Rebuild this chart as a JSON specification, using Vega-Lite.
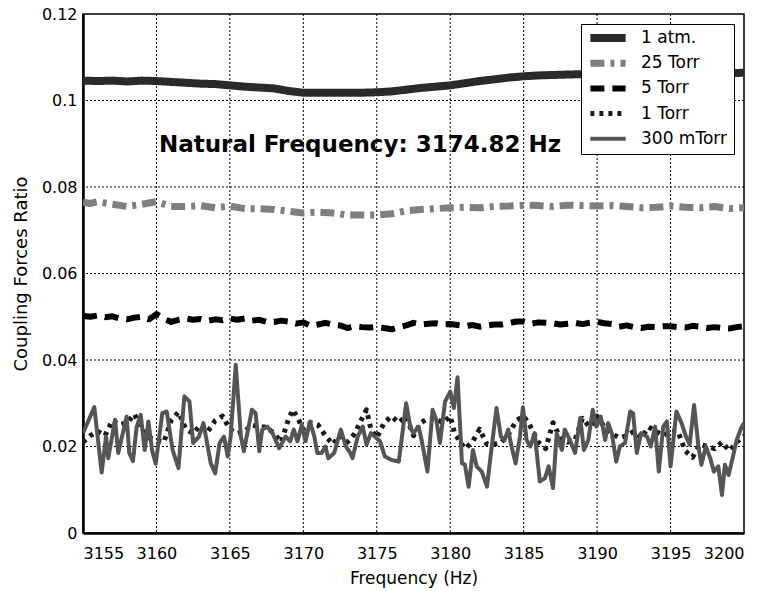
{
"$schema":"https://vega.github.io/schema/vega-lite/v6.json",
"width":661,"height":519,
"autosize":{"type":"none"},
"padding":{"left":83,"top":14,"right":23,"bottom":58},
"background":"white",
"config":{"view":{"stroke":"black","strokeWidth":1.5},"font":"DejaVu Sans"},
"datasets":{
"gridx":[{"f":3160},{"f":3165},{"f":3170},{"f":3175},{"f":3180},{"f":3185},{"f":3190},{"f":3195}],
"gridy":[{"v":0.02},{"v":0.04},{"v":0.06},{"v":0.08},{"v":0.1}],
"main":[
{"s":"1 atm.","f":3155,"v":0.1046},{"s":"1 atm.","f":3156,"v":0.1045},{"s":"1 atm.","f":3157,"v":0.1046},{"s":"1 atm.","f":3158,"v":0.1044},{"s":"1 atm.","f":3159,"v":0.1046},{"s":"1 atm.","f":3160,"v":0.1045},{"s":"1 atm.","f":3161,"v":0.1043},{"s":"1 atm.","f":3162,"v":0.1041},{"s":"1 atm.","f":3163,"v":0.1039},{"s":"1 atm.","f":3164,"v":0.1038},{"s":"1 atm.","f":3165,"v":0.1035},{"s":"1 atm.","f":3166,"v":0.1032},{"s":"1 atm.","f":3167,"v":0.1030},{"s":"1 atm.","f":3168,"v":0.1028},{"s":"1 atm.","f":3169,"v":0.1022},{"s":"1 atm.","f":3170,"v":0.1018},{"s":"1 atm.","f":3171,"v":0.1018},{"s":"1 atm.","f":3172,"v":0.1018},{"s":"1 atm.","f":3173,"v":0.1018},{"s":"1 atm.","f":3174,"v":0.1018},{"s":"1 atm.","f":3175,"v":0.1019},{"s":"1 atm.","f":3176,"v":0.1021},{"s":"1 atm.","f":3177,"v":0.1025},{"s":"1 atm.","f":3178,"v":0.1029},{"s":"1 atm.","f":3179,"v":0.1032},{"s":"1 atm.","f":3180,"v":0.1035},{"s":"1 atm.","f":3181,"v":0.1040},{"s":"1 atm.","f":3182,"v":0.1045},{"s":"1 atm.","f":3183,"v":0.1049},{"s":"1 atm.","f":3184,"v":0.1053},{"s":"1 atm.","f":3185,"v":0.1056},{"s":"1 atm.","f":3186,"v":0.1058},{"s":"1 atm.","f":3188,"v":0.1060},{"s":"1 atm.","f":3190,"v":0.1062},{"s":"1 atm.","f":3192,"v":0.1062},{"s":"1 atm.","f":3195,"v":0.1062},{"s":"1 atm.","f":3198,"v":0.1063},{"s":"1 atm.","f":3200,"v":0.1064},
{"s":"25 Torr","f":3155,"v":0.0765},{"s":"25 Torr","f":3155.5,"v":0.0762},{"s":"25 Torr","f":3156,"v":0.0766},{"s":"25 Torr","f":3157,"v":0.0760},{"s":"25 Torr","f":3158,"v":0.0755},{"s":"25 Torr","f":3159,"v":0.0760},{"s":"25 Torr","f":3160,"v":0.0766},{"s":"25 Torr","f":3161,"v":0.0755},{"s":"25 Torr","f":3162,"v":0.0755},{"s":"25 Torr","f":3163,"v":0.0757},{"s":"25 Torr","f":3164,"v":0.0752},{"s":"25 Torr","f":3165,"v":0.0756},{"s":"25 Torr","f":3166,"v":0.0750},{"s":"25 Torr","f":3167,"v":0.0750},{"s":"25 Torr","f":3168,"v":0.0748},{"s":"25 Torr","f":3169,"v":0.0744},{"s":"25 Torr","f":3170,"v":0.0740},{"s":"25 Torr","f":3171,"v":0.0742},{"s":"25 Torr","f":3172,"v":0.0740},{"s":"25 Torr","f":3173,"v":0.0735},{"s":"25 Torr","f":3174,"v":0.0735},{"s":"25 Torr","f":3175,"v":0.0735},{"s":"25 Torr","f":3176,"v":0.0738},{"s":"25 Torr","f":3177,"v":0.0745},{"s":"25 Torr","f":3178,"v":0.0748},{"s":"25 Torr","f":3179,"v":0.0750},{"s":"25 Torr","f":3180,"v":0.0752},{"s":"25 Torr","f":3181,"v":0.0753},{"s":"25 Torr","f":3182,"v":0.0752},{"s":"25 Torr","f":3183,"v":0.0755},{"s":"25 Torr","f":3184,"v":0.0756},{"s":"25 Torr","f":3185,"v":0.0758},{"s":"25 Torr","f":3186,"v":0.0757},{"s":"25 Torr","f":3187,"v":0.0755},{"s":"25 Torr","f":3188,"v":0.0758},{"s":"25 Torr","f":3189,"v":0.0757},{"s":"25 Torr","f":3190,"v":0.0756},{"s":"25 Torr","f":3191,"v":0.0757},{"s":"25 Torr","f":3192,"v":0.0755},{"s":"25 Torr","f":3193,"v":0.0752},{"s":"25 Torr","f":3194,"v":0.0753},{"s":"25 Torr","f":3195,"v":0.0756},{"s":"25 Torr","f":3196,"v":0.0753},{"s":"25 Torr","f":3197,"v":0.0752},{"s":"25 Torr","f":3198,"v":0.0755},{"s":"25 Torr","f":3199,"v":0.0750},{"s":"25 Torr","f":3200,"v":0.0752},
{"s":"5 Torr","f":3155,"v":0.0502},{"s":"5 Torr","f":3155.5,"v":0.0500},{"s":"5 Torr","f":3156,"v":0.0503},{"s":"5 Torr","f":3156.5,"v":0.0499},{"s":"5 Torr","f":3157,"v":0.0501},{"s":"5 Torr","f":3157.5,"v":0.0496},{"s":"5 Torr","f":3158,"v":0.0494},{"s":"5 Torr","f":3158.5,"v":0.0498},{"s":"5 Torr","f":3159,"v":0.0500},{"s":"5 Torr","f":3159.5,"v":0.0494},{"s":"5 Torr","f":3160,"v":0.0506},{"s":"5 Torr","f":3160.5,"v":0.0496},{"s":"5 Torr","f":3161,"v":0.0488},{"s":"5 Torr","f":3161.5,"v":0.0493},{"s":"5 Torr","f":3162,"v":0.0496},{"s":"5 Torr","f":3162.5,"v":0.0493},{"s":"5 Torr","f":3163,"v":0.0495},{"s":"5 Torr","f":3163.5,"v":0.0491},{"s":"5 Torr","f":3164,"v":0.0494},{"s":"5 Torr","f":3164.5,"v":0.0492},{"s":"5 Torr","f":3165,"v":0.0496},{"s":"5 Torr","f":3165.5,"v":0.0493},{"s":"5 Torr","f":3166,"v":0.0496},{"s":"5 Torr","f":3166.5,"v":0.0491},{"s":"5 Torr","f":3167,"v":0.0493},{"s":"5 Torr","f":3167.5,"v":0.0488},{"s":"5 Torr","f":3168,"v":0.0488},{"s":"5 Torr","f":3168.5,"v":0.0491},{"s":"5 Torr","f":3169,"v":0.0489},{"s":"5 Torr","f":3169.5,"v":0.0484},{"s":"5 Torr","f":3170,"v":0.0487},{"s":"5 Torr","f":3170.5,"v":0.0479},{"s":"5 Torr","f":3171,"v":0.0482},{"s":"5 Torr","f":3171.5,"v":0.0486},{"s":"5 Torr","f":3172,"v":0.0482},{"s":"5 Torr","f":3172.5,"v":0.0480},{"s":"5 Torr","f":3173,"v":0.0474},{"s":"5 Torr","f":3173.5,"v":0.0478},{"s":"5 Torr","f":3174,"v":0.0476},{"s":"5 Torr","f":3174.5,"v":0.0475},{"s":"5 Torr","f":3175,"v":0.0476},{"s":"5 Torr","f":3175.5,"v":0.0474},{"s":"5 Torr","f":3176,"v":0.0471},{"s":"5 Torr","f":3176.5,"v":0.0476},{"s":"5 Torr","f":3177,"v":0.0480},{"s":"5 Torr","f":3177.5,"v":0.0486},{"s":"5 Torr","f":3178,"v":0.0482},{"s":"5 Torr","f":3178.5,"v":0.0484},{"s":"5 Torr","f":3179,"v":0.0485},{"s":"5 Torr","f":3179.5,"v":0.0482},{"s":"5 Torr","f":3180,"v":0.0483},{"s":"5 Torr","f":3180.5,"v":0.0481},{"s":"5 Torr","f":3181,"v":0.0478},{"s":"5 Torr","f":3181.5,"v":0.0481},{"s":"5 Torr","f":3182,"v":0.0477},{"s":"5 Torr","f":3182.5,"v":0.0480},{"s":"5 Torr","f":3183,"v":0.0482},{"s":"5 Torr","f":3183.5,"v":0.0482},{"s":"5 Torr","f":3184,"v":0.0485},{"s":"5 Torr","f":3184.5,"v":0.0489},{"s":"5 Torr","f":3185,"v":0.0489},{"s":"5 Torr","f":3185.5,"v":0.0484},{"s":"5 Torr","f":3186,"v":0.0487},{"s":"5 Torr","f":3186.5,"v":0.0486},{"s":"5 Torr","f":3187,"v":0.0485},{"s":"5 Torr","f":3187.5,"v":0.0482},{"s":"5 Torr","f":3188,"v":0.0484},{"s":"5 Torr","f":3188.5,"v":0.0486},{"s":"5 Torr","f":3189,"v":0.0483},{"s":"5 Torr","f":3189.5,"v":0.0486},{"s":"5 Torr","f":3190,"v":0.0488},{"s":"5 Torr","f":3190.5,"v":0.0485},{"s":"5 Torr","f":3191,"v":0.0483},{"s":"5 Torr","f":3191.5,"v":0.0477},{"s":"5 Torr","f":3192,"v":0.0480},{"s":"5 Torr","f":3192.5,"v":0.0476},{"s":"5 Torr","f":3193,"v":0.0474},{"s":"5 Torr","f":3193.5,"v":0.0477},{"s":"5 Torr","f":3194,"v":0.0476},{"s":"5 Torr","f":3194.5,"v":0.0478},{"s":"5 Torr","f":3195,"v":0.0478},{"s":"5 Torr","f":3195.5,"v":0.0476},{"s":"5 Torr","f":3196,"v":0.0475},{"s":"5 Torr","f":3196.5,"v":0.0479},{"s":"5 Torr","f":3197,"v":0.0477},{"s":"5 Torr","f":3197.5,"v":0.0474},{"s":"5 Torr","f":3198,"v":0.0476},{"s":"5 Torr","f":3198.5,"v":0.0474},{"s":"5 Torr","f":3199,"v":0.0473},{"s":"5 Torr","f":3199.5,"v":0.0476},{"s":"5 Torr","f":3200,"v":0.0478},
{"s":"1 Torr","f":3155,"v":0.021},{"s":"1 Torr","f":3155.5,"v":0.0225},{"s":"1 Torr","f":3156,"v":0.0235},{"s":"1 Torr","f":3156.5,"v":0.0225},{"s":"1 Torr","f":3157,"v":0.026},{"s":"1 Torr","f":3157.5,"v":0.025},{"s":"1 Torr","f":3158,"v":0.0255},{"s":"1 Torr","f":3158.5,"v":0.0275},{"s":"1 Torr","f":3159,"v":0.024},{"s":"1 Torr","f":3159.5,"v":0.022},{"s":"1 Torr","f":3160,"v":0.0215},{"s":"1 Torr","f":3160.5,"v":0.021},{"s":"1 Torr","f":3161,"v":0.026},{"s":"1 Torr","f":3161.5,"v":0.028},{"s":"1 Torr","f":3162,"v":0.024},{"s":"1 Torr","f":3162.5,"v":0.023},{"s":"1 Torr","f":3163,"v":0.025},{"s":"1 Torr","f":3163.5,"v":0.0235},{"s":"1 Torr","f":3164,"v":0.026},{"s":"1 Torr","f":3164.5,"v":0.027},{"s":"1 Torr","f":3165,"v":0.024},{"s":"1 Torr","f":3165.5,"v":0.023},{"s":"1 Torr","f":3166,"v":0.0235},{"s":"1 Torr","f":3166.5,"v":0.025},{"s":"1 Torr","f":3167,"v":0.0245},{"s":"1 Torr","f":3167.5,"v":0.0245},{"s":"1 Torr","f":3168,"v":0.023},{"s":"1 Torr","f":3168.5,"v":0.021},{"s":"1 Torr","f":3169,"v":0.0265},{"s":"1 Torr","f":3169.3,"v":0.0285},{"s":"1 Torr","f":3169.7,"v":0.026},{"s":"1 Torr","f":3170,"v":0.024},{"s":"1 Torr","f":3170.5,"v":0.0255},{"s":"1 Torr","f":3171,"v":0.025},{"s":"1 Torr","f":3171.5,"v":0.0225},{"s":"1 Torr","f":3172,"v":0.0205},{"s":"1 Torr","f":3172.5,"v":0.0225},{"s":"1 Torr","f":3173,"v":0.021},{"s":"1 Torr","f":3173.5,"v":0.023},{"s":"1 Torr","f":3174,"v":0.0265},{"s":"1 Torr","f":3174.3,"v":0.0285},{"s":"1 Torr","f":3174.6,"v":0.024},{"s":"1 Torr","f":3175,"v":0.022},{"s":"1 Torr","f":3175.5,"v":0.0255},{"s":"1 Torr","f":3176,"v":0.027},{"s":"1 Torr","f":3176.5,"v":0.0255},{"s":"1 Torr","f":3177,"v":0.027},{"s":"1 Torr","f":3177.5,"v":0.0225},{"s":"1 Torr","f":3178,"v":0.0255},{"s":"1 Torr","f":3178.5,"v":0.0265},{"s":"1 Torr","f":3179,"v":0.0265},{"s":"1 Torr","f":3179.5,"v":0.0255},{"s":"1 Torr","f":3180,"v":0.027},{"s":"1 Torr","f":3180.3,"v":0.023},{"s":"1 Torr","f":3180.7,"v":0.021},{"s":"1 Torr","f":3181,"v":0.0195},{"s":"1 Torr","f":3181.5,"v":0.021},{"s":"1 Torr","f":3182,"v":0.024},{"s":"1 Torr","f":3182.5,"v":0.0205},{"s":"1 Torr","f":3183,"v":0.0205},{"s":"1 Torr","f":3183.5,"v":0.021},{"s":"1 Torr","f":3184,"v":0.023},{"s":"1 Torr","f":3184.5,"v":0.026},{"s":"1 Torr","f":3185,"v":0.027},{"s":"1 Torr","f":3185.4,"v":0.025},{"s":"1 Torr","f":3186,"v":0.021},{"s":"1 Torr","f":3186.5,"v":0.0195},{"s":"1 Torr","f":3187,"v":0.0255},{"s":"1 Torr","f":3187.5,"v":0.022},{"s":"1 Torr","f":3188,"v":0.021},{"s":"1 Torr","f":3188.5,"v":0.0215},{"s":"1 Torr","f":3189,"v":0.0265},{"s":"1 Torr","f":3189.5,"v":0.0245},{"s":"1 Torr","f":3190,"v":0.027},{"s":"1 Torr","f":3190.5,"v":0.0245},{"s":"1 Torr","f":3191,"v":0.023},{"s":"1 Torr","f":3191.5,"v":0.022},{"s":"1 Torr","f":3192,"v":0.0225},{"s":"1 Torr","f":3192.5,"v":0.0235},{"s":"1 Torr","f":3193,"v":0.022},{"s":"1 Torr","f":3193.5,"v":0.0245},{"s":"1 Torr","f":3194,"v":0.0235},{"s":"1 Torr","f":3194.5,"v":0.0225},{"s":"1 Torr","f":3195,"v":0.0235},{"s":"1 Torr","f":3195.5,"v":0.0235},{"s":"1 Torr","f":3196,"v":0.019},{"s":"1 Torr","f":3196.5,"v":0.0175},{"s":"1 Torr","f":3197,"v":0.0205},{"s":"1 Torr","f":3197.5,"v":0.020},{"s":"1 Torr","f":3198,"v":0.0195},{"s":"1 Torr","f":3198.5,"v":0.021},{"s":"1 Torr","f":3199,"v":0.019},{"s":"1 Torr","f":3199.5,"v":0.021},{"s":"1 Torr","f":3200,"v":0.0225},
{"s":"300 mTorr","f":3155.0,"v":0.0231},{"s":"300 mTorr","f":3155.77,"v":0.0291},{"s":"300 mTorr","f":3156.27,"v":0.0140},{"s":"300 mTorr","f":3156.57,"v":0.0223},{"s":"300 mTorr","f":3156.72,"v":0.0173},{"s":"300 mTorr","f":3157.18,"v":0.0262},{"s":"300 mTorr","f":3157.4,"v":0.0185},{"s":"300 mTorr","f":3157.97,"v":0.0269},{"s":"300 mTorr","f":3158.15,"v":0.0185},{"s":"300 mTorr","f":3158.4,"v":0.0166},{"s":"300 mTorr","f":3158.65,"v":0.0245},{"s":"300 mTorr","f":3158.93,"v":0.0273},{"s":"300 mTorr","f":3159.2,"v":0.0192},{"s":"300 mTorr","f":3159.45,"v":0.0258},{"s":"300 mTorr","f":3159.7,"v":0.0192},{"s":"300 mTorr","f":3159.95,"v":0.0160},{"s":"300 mTorr","f":3160.4,"v":0.0277},{"s":"300 mTorr","f":3160.7,"v":0.0281},{"s":"300 mTorr","f":3161.1,"v":0.0192},{"s":"300 mTorr","f":3161.5,"v":0.0150},{"s":"300 mTorr","f":3161.9,"v":0.0316},{"s":"300 mTorr","f":3162.25,"v":0.0304},{"s":"300 mTorr","f":3162.5,"v":0.0208},{"s":"300 mTorr","f":3162.9,"v":0.0223},{"s":"300 mTorr","f":3163.2,"v":0.0254},{"s":"300 mTorr","f":3163.7,"v":0.0161},{"s":"300 mTorr","f":3164.0,"v":0.0138},{"s":"300 mTorr","f":3164.3,"v":0.0208},{"s":"300 mTorr","f":3164.6,"v":0.0223},{"s":"300 mTorr","f":3164.85,"v":0.0177},{"s":"300 mTorr","f":3165.05,"v":0.0223},{"s":"300 mTorr","f":3165.4,"v":0.0389},{"s":"300 mTorr","f":3165.75,"v":0.0223},{"s":"300 mTorr","f":3165.95,"v":0.0189},{"s":"300 mTorr","f":3166.5,"v":0.0285},{"s":"300 mTorr","f":3166.75,"v":0.0277},{"s":"300 mTorr","f":3167.0,"v":0.0189},{"s":"300 mTorr","f":3167.2,"v":0.0239},{"s":"300 mTorr","f":3167.55,"v":0.0246},{"s":"300 mTorr","f":3167.9,"v":0.0231},{"s":"300 mTorr","f":3168.35,"v":0.0196},{"s":"300 mTorr","f":3168.8,"v":0.0223},{"s":"300 mTorr","f":3169.1,"v":0.0212},{"s":"300 mTorr","f":3169.35,"v":0.0239},{"s":"300 mTorr","f":3169.6,"v":0.0212},{"s":"300 mTorr","f":3169.9,"v":0.0250},{"s":"300 mTorr","f":3170.15,"v":0.0212},{"s":"300 mTorr","f":3170.45,"v":0.0258},{"s":"300 mTorr","f":3170.75,"v":0.0223},{"s":"300 mTorr","f":3170.95,"v":0.0185},{"s":"300 mTorr","f":3171.25,"v":0.0185},{"s":"300 mTorr","f":3171.5,"v":0.0200},{"s":"300 mTorr","f":3171.7,"v":0.0173},{"s":"300 mTorr","f":3172.1,"v":0.0185},{"s":"300 mTorr","f":3172.55,"v":0.0239},{"s":"300 mTorr","f":3172.9,"v":0.0200},{"s":"300 mTorr","f":3173.2,"v":0.0185},{"s":"300 mTorr","f":3173.35,"v":0.0173},{"s":"300 mTorr","f":3173.7,"v":0.0223},{"s":"300 mTorr","f":3174.05,"v":0.0246},{"s":"300 mTorr","f":3174.3,"v":0.0204},{"s":"300 mTorr","f":3174.6,"v":0.0231},{"s":"300 mTorr","f":3175.22,"v":0.0212},{"s":"300 mTorr","f":3175.55,"v":0.0177},{"s":"300 mTorr","f":3176.0,"v":0.0169},{"s":"300 mTorr","f":3176.5,"v":0.0165},{"s":"300 mTorr","f":3177.0,"v":0.0300},{"s":"300 mTorr","f":3177.3,"v":0.0242},{"s":"300 mTorr","f":3177.5,"v":0.0231},{"s":"300 mTorr","f":3177.85,"v":0.0246},{"s":"300 mTorr","f":3178.05,"v":0.0215},{"s":"300 mTorr","f":3178.45,"v":0.0142},{"s":"300 mTorr","f":3178.8,"v":0.0285},{"s":"300 mTorr","f":3179.05,"v":0.0262},{"s":"300 mTorr","f":3179.3,"v":0.0208},{"s":"300 mTorr","f":3179.65,"v":0.0304},{"s":"300 mTorr","f":3180.0,"v":0.0327},{"s":"300 mTorr","f":3180.25,"v":0.0289},{"s":"300 mTorr","f":3180.5,"v":0.0360},{"s":"300 mTorr","f":3180.8,"v":0.0161},{"s":"300 mTorr","f":3181.0,"v":0.0158},{"s":"300 mTorr","f":3181.25,"v":0.0107},{"s":"300 mTorr","f":3181.55,"v":0.0192},{"s":"300 mTorr","f":3181.8,"v":0.0154},{"s":"300 mTorr","f":3182.15,"v":0.0142},{"s":"300 mTorr","f":3182.5,"v":0.0107},{"s":"300 mTorr","f":3182.8,"v":0.0192},{"s":"300 mTorr","f":3183.15,"v":0.0289},{"s":"300 mTorr","f":3183.45,"v":0.0223},{"s":"300 mTorr","f":3183.7,"v":0.0215},{"s":"300 mTorr","f":3183.95,"v":0.0239},{"s":"300 mTorr","f":3184.15,"v":0.0204},{"s":"300 mTorr","f":3184.45,"v":0.0161},{"s":"300 mTorr","f":3184.75,"v":0.0223},{"s":"300 mTorr","f":3184.95,"v":0.0291},{"s":"300 mTorr","f":3185.2,"v":0.0215},{"s":"300 mTorr","f":3185.45,"v":0.0200},{"s":"300 mTorr","f":3185.75,"v":0.0231},{"s":"300 mTorr","f":3186.1,"v":0.0119},{"s":"300 mTorr","f":3186.45,"v":0.0127},{"s":"300 mTorr","f":3186.7,"v":0.0154},{"s":"300 mTorr","f":3187.0,"v":0.0104},{"s":"300 mTorr","f":3187.25,"v":0.0231},{"s":"300 mTorr","f":3187.6,"v":0.0192},{"s":"300 mTorr","f":3187.8,"v":0.0239},{"s":"300 mTorr","f":3188.15,"v":0.0215},{"s":"300 mTorr","f":3188.5,"v":0.0185},{"s":"300 mTorr","f":3188.85,"v":0.0266},{"s":"300 mTorr","f":3189.1,"v":0.0192},{"s":"300 mTorr","f":3189.4,"v":0.0215},{"s":"300 mTorr","f":3189.7,"v":0.0285},{"s":"300 mTorr","f":3189.95,"v":0.0246},{"s":"300 mTorr","f":3190.25,"v":0.0269},{"s":"300 mTorr","f":3190.55,"v":0.0215},{"s":"300 mTorr","f":3190.75,"v":0.0254},{"s":"300 mTorr","f":3191.0,"v":0.0231},{"s":"300 mTorr","f":3191.3,"v":0.0165},{"s":"300 mTorr","f":3191.55,"v":0.0200},{"s":"300 mTorr","f":3191.9,"v":0.0208},{"s":"300 mTorr","f":3192.25,"v":0.0281},{"s":"300 mTorr","f":3192.45,"v":0.0277},{"s":"300 mTorr","f":3192.7,"v":0.0185},{"s":"300 mTorr","f":3193.0,"v":0.0231},{"s":"300 mTorr","f":3193.4,"v":0.0223},{"s":"300 mTorr","f":3193.65,"v":0.0200},{"s":"300 mTorr","f":3193.95,"v":0.0246},{"s":"300 mTorr","f":3194.2,"v":0.0142},{"s":"300 mTorr","f":3194.5,"v":0.0246},{"s":"300 mTorr","f":3194.75,"v":0.0258},{"s":"300 mTorr","f":3195.0,"v":0.0154},{"s":"300 mTorr","f":3195.4,"v":0.0281},{"s":"300 mTorr","f":3195.75,"v":0.0254},{"s":"300 mTorr","f":3196.05,"v":0.0223},{"s":"300 mTorr","f":3196.3,"v":0.0204},{"s":"300 mTorr","f":3196.6,"v":0.0296},{"s":"300 mTorr","f":3196.9,"v":0.0200},{"s":"300 mTorr","f":3197.1,"v":0.0158},{"s":"300 mTorr","f":3197.4,"v":0.0200},{"s":"300 mTorr","f":3197.7,"v":0.0173},{"s":"300 mTorr","f":3197.95,"v":0.0142},{"s":"300 mTorr","f":3198.25,"v":0.0154},{"s":"300 mTorr","f":3198.5,"v":0.0088},{"s":"300 mTorr","f":3198.7,"v":0.0158},{"s":"300 mTorr","f":3198.95,"v":0.0134},{"s":"300 mTorr","f":3199.25,"v":0.0177},{"s":"300 mTorr","f":3199.5,"v":0.0215},{"s":"300 mTorr","f":3199.85,"v":0.0246},{"s":"300 mTorr","f":3200.0,"v":0.0254}
],
"note":[{"f":3173.86,"v":0.0896,"t":"Natural Frequency: 3174.82 Hz"}]
},
"layer":[
{"data":{"name":"gridx"},"mark":{"type":"rule","color":"black","strokeWidth":1,"strokeDash":[2,2]},
 "encoding":{"x":{"field":"f","type":"quantitative"}}},
{"data":{"name":"gridy"},"mark":{"type":"rule","color":"black","strokeWidth":1,"strokeDash":[2,2]},
 "encoding":{"y":{"field":"v","type":"quantitative"}}},
{"data":{"name":"main"},
"mark":{"type":"line","clip":true,"strokeCap":"butt","strokeJoin":"round"},
"encoding":{
"x":{"field":"f","type":"quantitative","scale":{"domain":[3155,3200],"nice":false,"zero":false},
 "axis":{"values":[3155,3160,3165,3170,3175,3180,3185,3190,3195,3200],"title":"Frequency (Hz)","titleFont":"DejaVu Sans","titleFontSize":17,"titleFontWeight":"normal","titleColor":"black","titlePadding":9,
 "labelFont":"DejaVu Sans","labelFontSize":16,"labelColor":"black","labelPadding":8,"ticks":true,"tickSize":4,"tickOpacity":0,"domainColor":"black","domainWidth":2.5,
 "grid":false,"format":"d"}},
"y":{"field":"v","type":"quantitative","scale":{"domain":[0,0.12],"nice":false},
 "axis":{"values":[0,0.02,0.04,0.06,0.08,0.1,0.12],"title":"Coupling Forces Ratio","titleFont":"DejaVu Sans","titleFontSize":18,"titleFontWeight":"normal","titleColor":"black","titlePadding":11,
 "labelFont":"DejaVu Sans","labelFontSize":16,"labelColor":"black","labelPadding":2,"ticks":true,"tickSize":4,"tickOpacity":0,"domainColor":"black","domainWidth":2.5,
 "grid":false,"labelExpr":"datum.value == 0 ? '0' : datum.value == 0.1 ? '0.1' : format(datum.value, '.2f')"}},
"color":{"field":"s","type":"nominal","scale":{"domain":["1 atm.","25 Torr","5 Torr","1 Torr","300 mTorr"],"range":["#2a2a2a","#7f7f7f","#000000","#1a1a1a","#555555"]},
 "legend":{"title":null,"orient":"top-right","offset":10,"fillColor":"white","strokeColor":"black","padding":7,"symbolType":"M-2.2,0H2.2","symbolSize":256,"symbolOffset":8,"labelOffset":21,"labelFont":"DejaVu Sans","labelFontSize":17,"labelColor":"black","clipHeight":14,"rowPadding":8.2,"symbolOpacity":1}},
"strokeDash":{"field":"s","type":"nominal","scale":{"domain":["1 atm.","25 Torr","5 Torr","1 Torr","300 mTorr"],"range":[[1,0],[14,6,4,6],[14,8],[4,5],[1,0]]}},
"strokeWidth":{"field":"s","type":"nominal","scale":{"domain":["1 atm.","25 Torr","5 Torr","1 Torr","300 mTorr"],"range":[8,4,4.5,4,4]}}
}},
{"data":{"name":"note"},
"mark":{"type":"text","font":"DejaVu Sans","fontSize":23,"fontWeight":"bold","color":"black","align":"center","baseline":"middle"},
"encoding":{"x":{"field":"f","type":"quantitative"},"y":{"field":"v","type":"quantitative"},"text":{"field":"t"}}}
]
}
